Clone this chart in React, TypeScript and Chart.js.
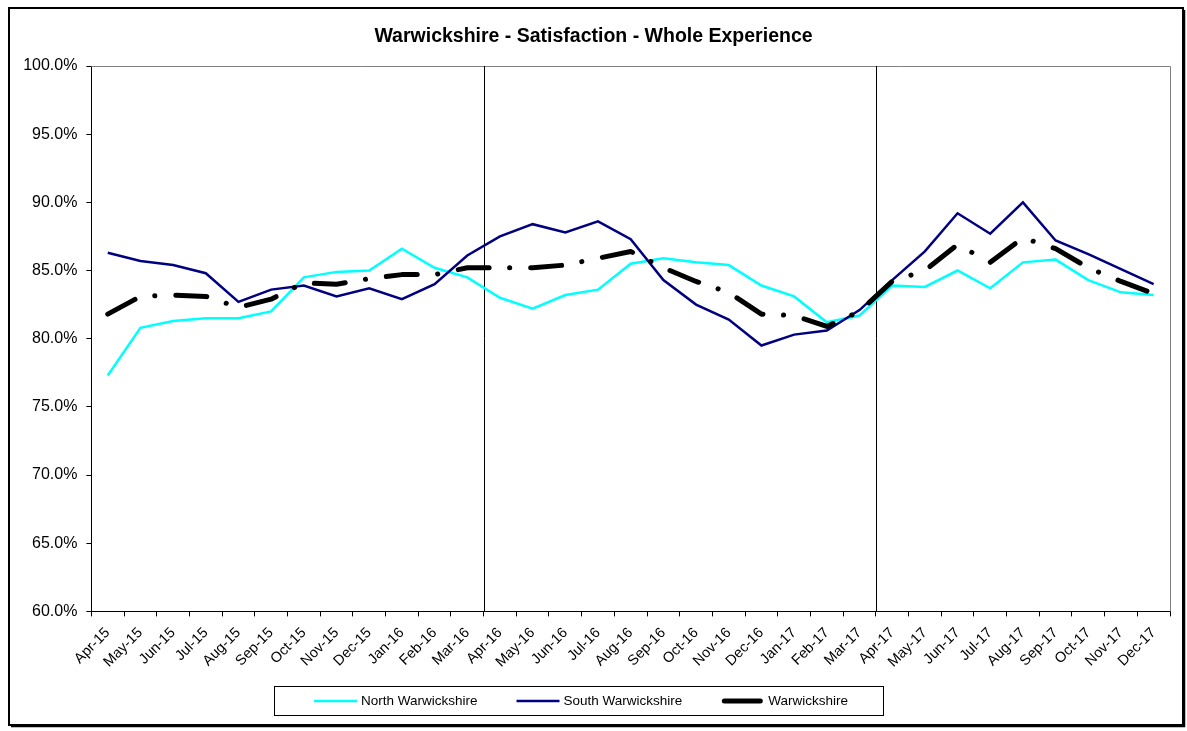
import React, { useEffect, useRef } from "react";
import { Chart, registerables } from "chart.js";

Chart.register(...registerables);

const chartTitle = "Warwickshire - Satisfaction - Whole Experience";

const months = [
  "Apr-15", "May-15", "Jun-15", "Jul-15", "Aug-15", "Sep-15", "Oct-15", "Nov-15", "Dec-15",
  "Jan-16", "Feb-16", "Mar-16", "Apr-16", "May-16", "Jun-16", "Jul-16", "Aug-16", "Sep-16",
  "Oct-16", "Nov-16", "Dec-16", "Jan-17", "Feb-17", "Mar-17", "Apr-17", "May-17", "Jun-17",
  "Jul-17", "Aug-17", "Sep-17", "Oct-17", "Nov-17", "Dec-17",
];

const northWarwickshire = [
  77.3, 80.8, 81.3, 81.5, 81.5, 82.0, 84.5, 84.9, 85.0, 86.6, 85.2, 84.5,
  83.0, 82.2, 83.2, 83.6, 85.5, 85.9, 85.6, 85.4, 83.9, 83.1, 81.2, 81.7,
  83.9, 83.8, 85.0, 83.7, 85.6, 85.8, 84.3, 83.4, 83.2,
];

const southWarwickshire = [
  86.3, 85.7, 85.4, 84.8, 82.7, 83.6, 83.9, 83.1, 83.7, 82.9, 84.0, 86.1,
  87.5, 88.4, 87.8, 88.6, 87.3, 84.3, 82.5, 81.4, 79.5, 80.3, 80.6, 82.1,
  84.3, 86.4, 89.2, 87.7, 90.0, 87.2, 86.2, 85.1, 84.0,
];

const warwickshire = [
  81.8, 83.1, 83.2, 83.1, 82.3, 82.9, 84.1, 84.0, 84.4, 84.7, 84.7, 85.2,
  85.2, 85.2, 85.4, 85.9, 86.4, 85.2, 84.2, 83.4, 81.8, 81.7, 80.9, 82.0,
  84.2, 85.0, 86.9, 85.6, 87.4, 86.6, 85.2, 84.2, 83.3,
];

const seriesNames = ["North Warwickshire", "South Warwickshire", "Warwickshire"];
const yMin = 60;
const yMax = 100;
const yStep = 5;
const dividerMonths = ["Apr-16", "Apr-17"];

const FONT = "'Liberation Sans', Arial, sans-serif";
const W = 1187;
const H = 731;

const framePlugin = {
  id: "framePlugin",
  beforeDraw(chart: any) {
    const ctx = chart.ctx;
    ctx.save();
    ctx.fillStyle = "#ffffff";
    ctx.fillRect(0, 0, chart.width, chart.height);
    ctx.restore();
  },
  beforeDatasetsDraw(chart: any) {
    const ctx = chart.ctx;
    const a = chart.chartArea;
    const xs = chart.scales.x;
    ctx.save();
    ctx.strokeStyle = "#808080";
    ctx.lineWidth = 1;
    ctx.beginPath();
    ctx.moveTo(a.left, a.top + 0.5);
    ctx.lineTo(a.right + 0.5, a.top + 0.5);
    ctx.lineTo(a.right + 0.5, a.bottom);
    ctx.stroke();
    ctx.strokeStyle = "#000000";
    dividerMonths.forEach((m) => {
      const i = months.indexOf(m);
      if (i <= 0) return;
      const x = Math.round((xs.getPixelForValue(i - 1) + xs.getPixelForValue(i)) / 2) + 0.5;
      ctx.beginPath();
      ctx.moveTo(x, a.top);
      ctx.lineTo(x, a.bottom);
      ctx.stroke();
    });
    ctx.restore();
  },
  afterDraw(chart: any) {
    const ctx = chart.ctx;
    ctx.save();
    ctx.strokeStyle = "#000000";
    ctx.lineWidth = 2;
    ctx.strokeRect(9, 8, 1174, 717);
    ctx.lineWidth = 1.5;
    ctx.beginPath();
    ctx.moveTo(11, 726.5);
    ctx.lineTo(1184.5, 726.5);
    ctx.lineTo(1184.5, 10);
    ctx.stroke();

    const boxL = 274.5, boxT = 686.5, boxR = 883.5, boxB = 715.5;
    ctx.lineWidth = 1;
    ctx.strokeStyle = "#000000";
    ctx.strokeRect(boxL, boxT, boxR - boxL, boxB - boxT);
    ctx.font = `13.5px ${FONT}`;
    ctx.textBaseline = "middle";
    ctx.textAlign = "left";
    let x = 314;
    const y = 701;
    chart.data.datasets.forEach((ds: any) => {
      ctx.strokeStyle = ds.borderColor;
      ctx.lineWidth = ds.borderWidth;
      ctx.lineCap = ds.borderWidth > 3 ? "round" : "butt";
      ctx.setLineDash([]);
      const len = ds.borderWidth > 3 ? 36 : 43;
      const off = ds.borderWidth > 3 ? 3 : 0;
      ctx.beginPath();
      ctx.moveTo(x + off, y);
      ctx.lineTo(x + off + len, y);
      ctx.stroke();
      ctx.fillStyle = "#000000";
      const tx = x + 47;
      ctx.fillText(ds.label, tx, y);
      x = tx + ctx.measureText(ds.label).width + 39;
    });
    ctx.restore();
  },
};

export default function App() {
  const ref = useRef<HTMLCanvasElement | null>(null);
  useEffect(() => {
    if (!ref.current) return;
    const chart = new Chart(ref.current, {
      type: "line",
      data: {
        labels: months,
        datasets: [
          {
            label: seriesNames[0],
            data: northWarwickshire,
            borderColor: "#00FFFF",
            backgroundColor: "#00FFFF",
            borderWidth: 2.5,
            pointRadius: 0,
            tension: 0,
            order: 2,
          },
          {
            label: seriesNames[1],
            data: southWarwickshire,
            borderColor: "#000080",
            backgroundColor: "#000080",
            borderWidth: 2.5,
            pointRadius: 0,
            tension: 0,
            order: 1,
          },
          {
            label: seriesNames[2],
            data: warwickshire,
            borderColor: "#000000",
            backgroundColor: "#000000",
            borderWidth: 5,
            borderDash: [31, 20.5, 0.1, 21],
            borderCapStyle: "round",
            borderJoinStyle: "round",
            pointRadius: 0,
            tension: 0,
            order: 0,
          },
        ],
      },
      options: {
        animation: false,
        responsive: false,
        devicePixelRatio: 1,
        layout: { padding: { top: 16, right: 0, left: 0, bottom: 0 } },
        plugins: {
          legend: { display: false },
          tooltip: { enabled: false },
          title: {
            display: true,
            text: chartTitle,
            color: "#000000",
            font: { family: FONT, size: 19.5, weight: "bold" },
            padding: { top: 9, bottom: 17.6 },
          },
        },
        scales: {
          x: {
            type: "category",
            offset: true,
            grid: {
              display: true,
              drawOnChartArea: false,
              drawTicks: true,
              tickLength: 5,
              offset: true,
              color: "#000000",
            },
            border: { display: true, color: "#000000", width: 1 },
            ticks: {
              autoSkip: false,
              minRotation: 45,
              maxRotation: 45,
              color: "#000000",
              padding: 8,
              font: { family: FONT, size: 14.5 },
            },
            afterFit: (s: any) => {
              s.height = 119.6;
            },
          },
          y: {
            min: yMin,
            max: yMax,
            ticks: {
              stepSize: yStep,
              color: "#000000",
              padding: 9,
              font: { family: FONT, size: 16 },
              callback: (v: any) => Number(v).toFixed(1) + "%",
            },
            grid: {
              display: true,
              drawOnChartArea: false,
              drawTicks: true,
              tickLength: 5,
              color: "#000000",
            },
            border: { display: true, color: "#000000", width: 1 },
            afterFit: (s: any) => {
              s.width = 91.4;
            },
          },
          spacer: {
            type: "linear",
            position: "right",
            display: true,
            grid: { display: false, drawTicks: false },
            border: { display: false },
            ticks: { display: false },
            afterFit: (s: any) => {
              s.width = 17;
            },
          },
        },
      },
      plugins: [framePlugin],
    } as any);
    return () => chart.destroy();
  }, []);

  return (
    <div style={{ position: "fixed", left: 0, top: 0, width: W, height: H, background: "#fff" }}>
      <canvas ref={ref} width={W} height={H} style={{ width: W, height: H, display: "block" }} />
    </div>
  );
}
